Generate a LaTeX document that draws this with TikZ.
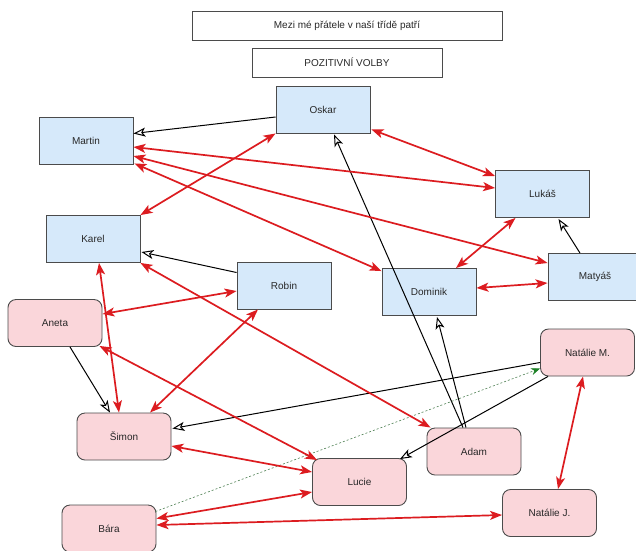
\documentclass[tikz,border=0pt]{standalone}
\usepackage{fontspec}
\setmainfont{Liberation Sans}
\usetikzlibrary{arrows.meta,calc}
\definecolor{bluefill}{RGB}{214,233,250}
\definecolor{pinkfill}{RGB}{250,214,218}
\definecolor{boxline}{RGB}{75,75,75}
\definecolor{redarr}{RGB}{220,28,32}
\definecolor{greenarr}{RGB}{30,130,40}
\definecolor{txt}{RGB}{40,40,40}
\begin{document}
\begin{tikzpicture}[x=1pt,y=-1pt,
 font=\fontsize{10}{12}\selectfont,
 boy/.style={draw=boxline, fill=bluefill, minimum width=94pt, minimum height=47pt, inner sep=0pt, line width=0.9pt, text=txt},
 girl/.style={boy, fill=pinkfill, rounded corners=8pt},
 titlebox/.style={draw=boxline, fill=white, line width=0.9pt, inner sep=0pt, text=txt},
 mutual/.style={draw=redarr, line width=1.7pt, {Stealth[length=12pt,width=9pt,inset=3pt]}-{Stealth[length=12pt,width=9pt,inset=3pt]}},
 oneway/.style={draw=black, line width=1pt, -{Stealth[open,length=12pt,width=9pt,inset=3pt]}},
 hint/.style={draw=greenarr!50!gray, dash pattern=on 2pt off 2pt, line width=0.6pt, -{Stealth[length=9pt,width=7pt,fill=greenarr,color=greenarr]}}
]
\useasboundingbox (0,0) rectangle (636,550);
\clip (0,0) rectangle (636,550);
\fill[white] (0,0) rectangle (636,550);

% titles
\node[titlebox, minimum width=310pt, minimum height=29pt] (title) at (347,25.5) {Mezi mé přátele v naší třídě patří};
\node[titlebox, minimum width=190pt, minimum height=29pt] (pos) at (347,62.5) {POZITIVNÍ VOLBY};

% boys
\node[boy] (oskar) at (323,109.5) {Oskar};
\node[boy] (martin) at (86,140.5) {Martin};
\node[boy] (lukas) at (542.5,194) {Lukáš};
\node[boy] (karel) at (93,239) {Karel};
\node[boy] (robin) at (284,285.5) {Robin};
\node[boy] (dominik) at (429,292) {Dominik};
\node[boy] (matyas) at (595,277) {Matyáš};

% girls / others
\node[girl] (aneta) at (55,323) {Aneta};
\node[girl] (natm) at (587.5,352.5) {Natálie M.};
\node[girl] (simon) at (124,436.5) {Šimon};
\node[girl] (adam) at (474,451.5) {Adam};
\node[girl] (lucie) at (359.5,482) {Lucie};
\node[girl] (natj) at (549.5,513) {Natálie J.};
\node[girl] (bara) at (109,528.5) {Bára};

% one-way choices
\draw[oneway] ($(oskar.west)+(0,7.5)$) -- ($(martin.east)+(0,-7)$);
\draw[oneway] ($(adam.north)+(-11,0)$) -- ($(oskar.south)+(11,1)$);
\draw[oneway] ($(adam.north)+(-8,0)$) -- ($(dominik.south)+(8,1)$);
\draw[oneway] ($(matyas.north)+(-15,0)$) -- ($(lukas.south)+(16,1)$);
\draw[oneway] ($(robin.west)+(0,-13)$) -- ($(karel.east)+(1,13)$);
\draw[oneway] ($(aneta.south)+(15,0)$) -- ($(simon.north)+(-14,0)$);
\draw[oneway] ($(natm.west)+(0,10)$) -- ($(simon.east)+(1,-8)$);
\draw[oneway] ($(natm.south west)+(8,0)$) -- ($(lucie.north east)+(-7,1)$);

% green dotted
\draw[hint] ($(bara.east)+(-1,-17)$) -- ($(natm.west)+(0,16)$);

% mutual choices
\draw[mutual] ($(oskar.south east)+(1,-4)$) -- ($(lukas.west)+(0,-18)$);
\draw[mutual] ($(martin.east)+(0,6.5)$) -- ($(lukas.west)+(0,-6)$);
\draw[mutual] ($(martin.east)+(0,15.5)$) -- ($(matyas.west)+(0,-14)$);
\draw[mutual] ($(martin.south east)+(1,-1)$) -- ($(dominik.north west)+(0,3)$);
\draw[mutual] (oskar.south west) -- (karel.north east);
\draw[mutual] ($(lukas.south)+(-27,0)$) -- ($(dominik.north)+(27,0)$);
\draw[mutual] ($(dominik.east)+(0,-4)$) -- ($(matyas.west)+(0,6)$);
\draw[mutual] (karel.south east) -- ($(adam.north west)+(4,0)$);
\draw[mutual] ($(karel.south)+(6,0)$) -- ($(simon.north)+(-5,0)$);
\draw[mutual] ($(aneta.east)+(0,-9)$) -- ($(robin.west)+(0,5.5)$);
\draw[mutual] ($(robin.south)+(-26,0)$) -- ($(simon.north)+(26,0)$);
\draw[mutual] ($(aneta.south east)+(-3,-1)$) -- ($(lucie.north west)+(5,2)$);
\draw[mutual] ($(simon.east)+(0,9.5)$) -- ($(lucie.west)+(0,-10)$);
\draw[mutual] ($(bara.east)+(0,-10)$) -- ($(lucie.west)+(0,10)$);
\draw[mutual] ($(bara.east)+(0,-3.5)$) -- ($(natj.west)+(0,2)$);
\draw[mutual] ($(natm.south)+(-4.5,0)$) -- ($(natj.north)+(8.5,0)$);
\end{tikzpicture}
\end{document}
